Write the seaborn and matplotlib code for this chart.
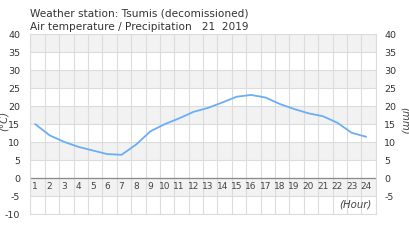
import matplotlib
matplotlib.use("Agg")
import matplotlib.pyplot as plt
import seaborn as sns
import numpy as np
import pandas as pd

hours = list(range(1, 25))
temperature = [15.0, 11.9, 10.1, 8.7, 7.7, 6.7, 6.5, 9.3, 13.0, 15.0, 16.6, 18.4,
               19.5, 21.0, 22.6, 23.1, 22.4, 20.6, 19.2, 18.0, 17.2, 15.4, 12.6, 11.5]
left_ticks = [40, 35, 30, 25, 20, 15, 10, 5, 0, -5, -10]
right_ticks = [40, 35, 30, 25, 20, 15, 10, 5, 0, -5]
title_line1 = "Weather station: Tsumis (decomissioned)"
title_line2 = "Air temperature / Precipitation   21  2019"

sns.set_style("white")
plt.rcParams['font.family'] = ['DejaVu Sans']

df = pd.DataFrame({"hour": hours, "temp": temperature})

fig = plt.figure(figsize=(4.1, 2.5), dpi=100)
ax = fig.add_axes([30.5 / 410, 1 - 214.3 / 250, (375.7 - 30.5) / 410, (214.3 - 34) / 250])

xmin, xmax = 0.67, 24.67
ymin, ymax = -10, 40

# alternating background bands
for lo in range(-5, 40, 10):
    ax.axhspan(lo, lo + 5, color="#f2f2f2", zorder=0, lw=0)

# grid
for xv in np.arange(xmin, xmax + 0.01, 1.0):
    ax.axvline(xv, color="#dcdcdc", lw=0.8, zorder=1)
for yv in left_ticks:
    ax.axhline(yv, color="#dcdcdc", lw=0.8, zorder=1)
ax.axhline(0, color="#8a8a8a", lw=0.9, zorder=2)

sns.lineplot(data=df, x="hour", y="temp", ax=ax, color="#6aaef5", lw=1.3, zorder=3)

ax.set_xlim(xmin, xmax)
ax.set_ylim(ymin, ymax)
ax.set_xticks([])
ax.set_yticks(left_ticks)
ax.set_yticklabels([str(t) for t in left_ticks])
ax.tick_params(axis="y", length=0, pad=7.5, labelsize=6.8, labelcolor="#333333")
ax.set_xlabel("")
ax.set_ylabel("")
for s in ax.spines.values():
    s.set_color("#dcdcdc")
    s.set_linewidth(0.8)

for h in hours:
    ax.text(h, -2.4, str(h), ha="center", va="center", fontsize=6.5, color="#444444")
ax.text(24.4, -7.4, "(Hour)", ha="right", va="center", fontsize=7.3,
        style="italic", color="#444444")

ax2 = ax.twinx()
ax2.set_ylim(ymin, ymax)
ax2.set_yticks(right_ticks)
ax2.set_yticklabels([str(t) for t in right_ticks])
ax2.tick_params(axis="y", length=0, pad=6, labelsize=6.8, labelcolor="#333333")
for s in ax2.spines.values():
    s.set_visible(False)

fig.text(4 / 410, 1 - 121 / 250, "(°C)", rotation=90, ha="center", va="center",
         fontsize=7.3, style="italic", color="#444444")
fig.text(405 / 410, 1 - 121 / 250, "(mm)", rotation=270, ha="center", va="center",
         fontsize=7.3, style="italic", color="#444444")

fig.text(30 / 410, 1 - 14 / 250, title_line1, ha="left", va="center",
         fontsize=7.6, color="#333333")
fig.text(30 / 410, 1 - 27 / 250, title_line2, ha="left", va="center",
         fontsize=7.6, color="#333333")

fig.savefig("out.png", dpi=100)
